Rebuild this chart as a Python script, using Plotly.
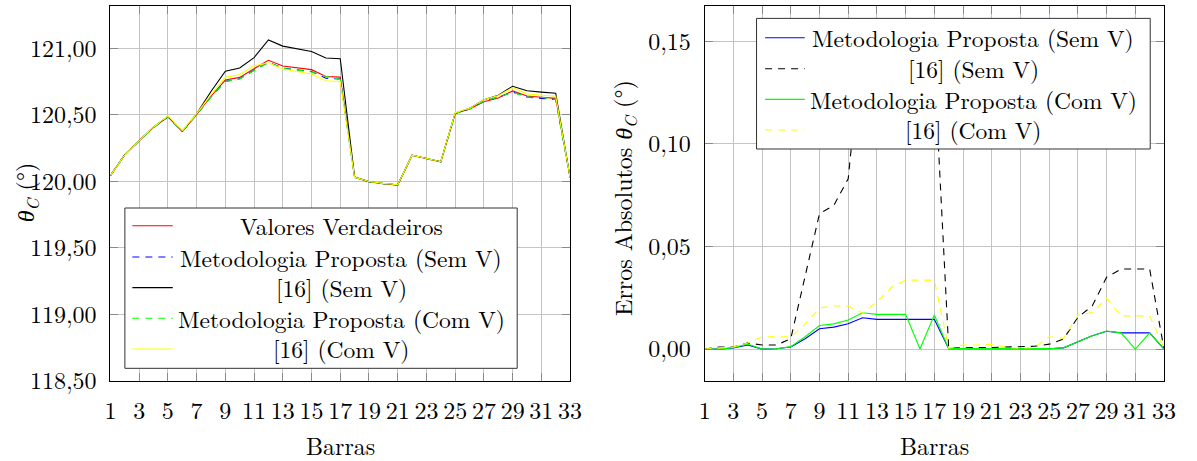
import plotly.graph_objects as go

W, H = 1197, 461
FONT = "Latin Modern Roman"
FS = 24

bars = list(range(1, 34))
x_ticks = list(range(1, 34, 2))
y_ticks_left = [118.5, 119.0, 119.5, 120.0, 120.5, 121.0]
y_ticks_right = [0.0, 0.05, 0.10, 0.15]

# ---- left chart: theta_C (degrees) ----
true_vals = [120.043, 120.200, 120.305, 120.406, 120.486, 120.375, 120.503, 120.640,
             120.762, 120.782, 120.847, 120.910, 120.867, 120.852, 120.840, 120.789,
             120.784, 120.031, 119.997, 119.983, 119.973, 120.196, 120.174, 120.147,
             120.511, 120.544, 120.598, 120.627, 120.680, 120.642, 120.632, 120.624,
             120.030]
prop_sem_v = [120.043, 120.200, 120.305, 120.404, 120.486, 120.375, 120.502, 120.635,
              120.752, 120.771, 120.835, 120.895, 120.852, 120.838, 120.826, 120.775,
              120.770, 120.031, 119.997, 119.983, 119.973, 120.196, 120.174, 120.147,
              120.511, 120.544, 120.602, 120.633, 120.671, 120.634, 120.624, 120.616,
              120.030]
ref16_sem_v = [120.043, 120.201, 120.306, 120.409, 120.488, 120.377, 120.508, 120.676,
               120.828, 120.852, 120.930, 121.063, 121.017, 120.995, 120.976, 120.927,
               120.922, 120.032, 119.998, 119.984, 119.974, 120.197, 120.175, 120.148,
               120.513, 120.549, 120.614, 120.648, 120.715, 120.681, 120.671, 120.663,
               120.030]
prop_com_v = [120.043, 120.200, 120.305, 120.404, 120.486, 120.375, 120.502, 120.634,
              120.751, 120.770, 120.833, 120.893, 120.850, 120.835, 120.823, 120.789,
              120.767, 120.031, 119.997, 119.983, 119.973, 120.196, 120.174, 120.147,
              120.511, 120.544, 120.602, 120.633, 120.671, 120.634, 120.632, 120.616,
              120.030]
ref16_com_v = [120.043, 120.200, 120.306, 120.409, 120.492, 120.381, 120.509, 120.652,
               120.782, 120.803, 120.868, 120.892, 120.845, 120.824, 120.807, 120.756,
               120.751, 120.031, 119.999, 119.985, 119.975, 120.197, 120.174, 120.148,
               120.517, 120.549, 120.614, 120.645, 120.705, 120.658, 120.648, 120.640,
               120.030]

# ---- right chart: absolute errors (degrees) ----
err_prop_sem_v = [0.0, 0.0, 0.0005, 0.002, 0.0, 0.0002, 0.001, 0.005,
                  0.0099, 0.0107, 0.0123, 0.0153, 0.0145, 0.0145, 0.0145, 0.0145,
                  0.0145, 0.0002, 0.0002, 0.0002, 0.0002, 0.0002, 0.0002, 0.0002,
                  0.0002, 0.0006, 0.0036, 0.0065, 0.0087, 0.0079, 0.0079, 0.0079,
                  0.0]
err_ref16_sem_v = [0.0, 0.001, 0.001, 0.003, 0.002, 0.002, 0.005, 0.036,
                   0.066, 0.070, 0.083, 0.153, 0.150, 0.143, 0.136, 0.138,
                   0.138, 0.0005, 0.0008, 0.0008, 0.0008, 0.0011, 0.0011, 0.0014,
                   0.0024, 0.0049, 0.0155, 0.021, 0.035, 0.039, 0.039, 0.039,
                   0.0]
err_prop_com_v = [0.0, 0.0, 0.0007, 0.0025, 0.0, 0.0002, 0.0012, 0.006,
                  0.0115, 0.0123, 0.0142, 0.0177, 0.0169, 0.0169, 0.0169, 0.0,
                  0.0166, 0.0002, 0.0002, 0.0002, 0.0002, 0.0002, 0.0002, 0.0002,
                  0.0002, 0.0006, 0.0036, 0.0065, 0.0088, 0.0079, 0.0, 0.0079,
                  0.0]
err_ref16_com_v = [0.0, 0.0005, 0.001, 0.003, 0.006, 0.006, 0.006, 0.012,
                   0.020, 0.021, 0.021, 0.0175, 0.023, 0.030, 0.0336, 0.0336,
                   0.0336, 0.0005, 0.002, 0.002, 0.0024, 0.0008, 0.0005, 0.0008,
                   0.006, 0.0052, 0.0165, 0.0178, 0.0248, 0.0162, 0.0162, 0.0162,
                   0.0005]

left_names = ["Valores Verdadeiros", "Metodologia Proposta (Sem V)", "[16] (Sem V)",
              "Metodologia Proposta (Com V)", "[16] (Com V)"]
right_names = ["Metodologia Proposta (Sem V)", "[16] (Sem V)",
               "Metodologia Proposta (Com V)", "[16] (Com V)"]

RED, BLUE, BLACK, GREEN, YELLOW = "#ff0000", "#0000ff", "#000000", "#00ff00", "#ffff00"
DASH = "7px,6px"
LW = 1.1

left_series = [
    (true_vals, RED, "solid"),
    (prop_sem_v, BLUE, DASH),
    (ref16_sem_v, BLACK, "solid"),
    (prop_com_v, GREEN, DASH),
    (ref16_com_v, YELLOW, "solid"),
]
right_series = [
    (err_prop_sem_v, BLUE, "solid"),
    (err_ref16_sem_v, BLACK, DASH),
    (err_prop_com_v, GREEN, "solid"),
    (err_ref16_com_v, YELLOW, DASH),
]

fig = go.Figure()
for (vals, col, dash), name in zip(left_series, left_names):
    fig.add_trace(go.Scatter(x=bars, y=vals, mode="lines", name=name,
                             line=dict(color=col, width=LW, dash=dash),
                             xaxis="x", yaxis="y", showlegend=False))
for (vals, col, dash), name in zip(right_series, right_names):
    fig.add_trace(go.Scatter(x=bars, y=vals, mode="lines", name=name,
                             line=dict(color=col, width=LW, dash=dash),
                             xaxis="x2", yaxis="y2", showlegend=False))


def px(x):
    return x / W


def py(y):
    return 1 - y / H


axis_common = dict(
    showgrid=True, gridcolor="#c4c4c4", gridwidth=1,
    ticks="inside", ticklen=8, tickcolor="#8a8a8a", tickwidth=1,
    showline=True, linecolor="#000000", linewidth=1, mirror="ticks",
    zeroline=False,
    tickfont=dict(family=FONT, size=FS, color="#000000"),
)

ydom = [py(393.7), py(6)]
fig.update_layout(
    width=W, height=H,
    margin=dict(l=0, r=0, t=0, b=0),
    paper_bgcolor="white", plot_bgcolor="white",
    separators=",.",
    font=dict(family=FONT, size=FS, color="#000000"),
    xaxis=dict(domain=[px(106), px(572.7)], range=[1, 33], tickvals=x_ticks,
               anchor="y", ticklabelstandoff=8, **axis_common),
    yaxis=dict(domain=ydom, range=[118.5, 121.32], tickvals=y_ticks_left,
               tickformat=".2f", anchor="x", ticklabelstandoff=8, **axis_common),
    xaxis2=dict(domain=[px(709.3), px(1175.7)], range=[1, 33], tickvals=x_ticks,
                anchor="y2", ticklabelstandoff=8, **axis_common),
    yaxis2=dict(domain=ydom, range=[-0.0155, 0.1673], tickvals=y_ticks_right,
                tickformat=".2f", anchor="x2", ticklabelstandoff=8, **axis_common),
)

shapes = []
annotations = []


def add_legend(box, rows, sample_x, text_cx, entries):
    x0, x1, y0, y1 = box
    shapes.append(dict(type="rect", xref="paper", yref="paper", layer="above",
                       x0=px(x0), x1=px(x1), y0=py(y1), y1=py(y0),
                       line=dict(color="#333333", width=1), fillcolor="white"))
    for (name, col, dash), yr in zip(entries, rows):
        shapes.append(dict(type="line", xref="paper", yref="paper", layer="above",
                           x0=px(sample_x[0]), x1=px(sample_x[1]), y0=py(yr), y1=py(yr),
                           line=dict(color=col, width=LW, dash=dash)))
        annotations.append(dict(text=name, xref="paper", yref="paper",
                                x=px(text_cx), y=py(yr), xanchor="center", yanchor="middle",
                                showarrow=False, borderpad=0,
                                font=dict(family=FONT, size=23.5, color="#000000")))


add_legend((120.7, 519, 215, 380.7), [233.3, 265.7, 297.3, 329, 360.7], (128.3, 169.3), 340.5,
           [(n, c, d) for n, (v, c, d) in zip(left_names, left_series)])
add_legend((762, 1161.7, 19, 154), [39, 71, 102.7, 134.3], (770.7, 811), 982,
           [(n, c, d) for n, (v, c, d) in zip(right_names, right_series)])

# axis titles
annotations.append(dict(text="Barras", xref="paper", yref="paper", x=px(339.3), y=py(441),
                        xanchor="center", yanchor="top", showarrow=False, borderpad=0,
                        font=dict(family=FONT, size=FS)))
annotations.append(dict(text="Barras", xref="paper", yref="paper", x=px(942.5), y=py(441),
                        xanchor="center", yanchor="top", showarrow=False, borderpad=0,
                        font=dict(family=FONT, size=FS)))
annotations.append(dict(text="<i>θ</i><sub><i>C</i></sub> (°)", xref="paper", yref="paper",
                        x=px(20), y=py(199), xanchor="center", yanchor="middle",
                        textangle=-90, showarrow=False, font=dict(family=FONT, size=FS)))
annotations.append(dict(text="Erros Absolutos <i>θ</i><sub><i>C</i></sub> (°)", xref="paper",
                        yref="paper", x=px(627), y=py(205), xanchor="center", yanchor="middle",
                        textangle=-90, showarrow=False, font=dict(family=FONT, size=FS)))

fig.update_layout(shapes=shapes, annotations=annotations)
fig.write_html("out.html")
